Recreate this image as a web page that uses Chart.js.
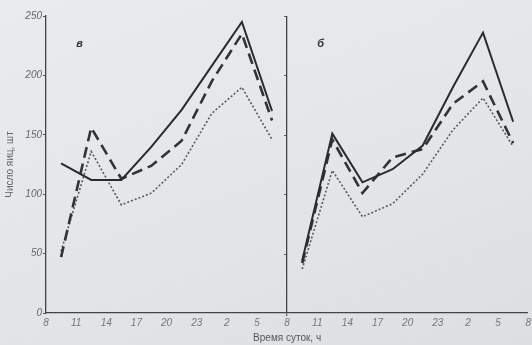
<!DOCTYPE html>
<html lang="ru">
<head>
    <meta charset="UTF-8">
    <title>Число яиц по времени суток</title>
    <script src="https://cdn.jsdelivr.net/npm/chart.js"></script>
    <style>
        html, body {
            margin: 0;
            padding: 0;
            width: 532px;
            height: 345px;
            overflow: hidden;
            background: linear-gradient(160deg, #e9ebed 0%, #e3e6e9 55%, #dcdfe2 100%);
        }
        #wrap {
            position: relative;
            width: 532px;
            height: 345px;
        }
    </style>
</head>
<body>
    <div id="wrap"><canvas id="grafik" width="532" height="345"></canvas></div>

    <script>
        // время суток (середина трёхчасового интервала)
        const hours = [9.5, 12.5, 15.5, 18.5, 21.5, 0.5, 3.5, 6.5];
        const xTicks = [8, 11, 14, 17, 20, 23, 2, 5, 8];
        const yTicks = [0, 50, 100, 150, 200, 250];

        // панель "в"
        const aSolid  = [126, 112, 112, 140, 171, 208, 245, 170];
        const aDashed = [47, 156, 113, 124, 145, 195, 235, 162];
        const aDotted = [52, 136, 91, 101, 125, 168, 190, 146];

        // панель "б"
        const bSolid  = [44, 151, 110, 121, 141, 190, 236, 161];
        const bDashed = [42, 146, 101, 131, 138, 176, 195, 143];
        const bDotted = [37, 120, 81, 92, 117, 154, 181, 140];

        const panelLabels = ['в', 'б'];

        // часы от 8:00, вторая панель сдвинута на сутки
        function toPoints(vals, shift) {
            return hours.map((h, i) => ({ x: (h - 8 + 24) % 24 + shift, y: vals[i] }));
        }

        const solid = { borderColor: '#2b2b2b', borderWidth: 2 };
        const dashed = { borderColor: '#333', borderWidth: 2.6, borderDash: [11, 6] };
        const dotted = { borderColor: '#5a5a5a', borderWidth: 1.6, borderDash: [2, 2] };

        const series = [
            [aSolid, 0, solid], [aDashed, 0, dashed], [aDotted, 0, dotted],
            [bSolid, 24, solid], [bDashed, 24, dashed], [bDotted, 24, dotted]
        ];

        const datasets = series.map(([vals, shift, style]) => Object.assign({
            data: toPoints(vals, shift),
            pointRadius: 0,
            tension: 0,
            fill: false
        }, style));

        const tickFont = { family: "'Liberation Sans Narrow', 'Liberation Sans', sans-serif", size: 10, style: 'italic' };

        // подписи панелей и засечки оси второй панели
        const extras = {
            id: 'extras',
            afterDraw(chart) {
                const c = chart.ctx;
                const xs = chart.scales.x, ys = chart.scales.y;
                c.save();
                c.fillStyle = '#333';
                c.font = "italic bold 11px 'Liberation Sans', sans-serif";
                c.fillText(panelLabels[0], xs.getPixelForValue(3), ys.getPixelForValue(224));
                c.fillText(panelLabels[1], xs.getPixelForValue(27), ys.getPixelForValue(224));
                const x0 = xs.getPixelForValue(24);
                c.strokeStyle = '#555';
                c.lineWidth = 1;
                yTicks.slice(1).forEach(v => {
                    const y = Math.round(ys.getPixelForValue(v)) + 0.5;
                    c.beginPath();
                    c.moveTo(x0 - 3, y);
                    c.lineTo(x0, y);
                    c.stroke();
                });
                c.restore();
            }
        };

        new Chart(document.getElementById('grafik').getContext('2d'), {
            type: 'line',
            data: { datasets },
            plugins: [extras],
            options: {
                responsive: false,
                animation: false,
                layout: { padding: { top: 16, right: 3, left: 4, bottom: 1 } },
                plugins: { legend: { display: false }, tooltip: { enabled: false } },
                scales: {
                    x: {
                        type: 'linear',
                        min: 0,
                        max: 48,
                        afterBuildTicks: s => { s.ticks = []; for (let v = 0; v <= 48; v += 3) s.ticks.push({ value: v }); },
                        ticks: {
                            autoSkip: false,
                            maxRotation: 0,
                            color: '#777',
                            font: tickFont,
                            padding: 1,
                            callback: v => xTicks[(v / 3) % 8]
                        },
                        grid: {
                            color: c => (c.tick && c.tick.value === 24) ? '#444' : 'transparent',
                            lineWidth: c => (c.tick && c.tick.value === 24) ? 1.3 : 0,
                            tickColor: '#666',
                            tickLength: 3,
                            drawOnChartArea: true
                        },
                        border: { color: '#444', width: 1.3 },
                        title: {
                            display: true,
                            text: 'Время суток, ч',
                            color: '#555',
                            font: { family: "'Liberation Sans Narrow', 'Liberation Sans', sans-serif", size: 10 },
                            padding: { top: 1, bottom: 0 }
                        },
                        afterFit: s => { s.height = 31; }
                    },
                    y: {
                        min: 0,
                        max: 250,
                        afterBuildTicks: s => { s.ticks = yTicks.map(v => ({ value: v })); },
                        ticks: { color: '#666', font: tickFont, padding: 1 },
                        grid: { display: true, drawOnChartArea: false, tickLength: 3, tickColor: '#555' },
                        border: { color: '#444', width: 1.3 },
                        title: {
                            display: true,
                            text: 'Число яиц, шт',
                            color: '#666',
                            font: { family: "'Liberation Sans Narrow', 'Liberation Sans', sans-serif", size: 10 },
                            padding: { top: 0, bottom: 2 }
                        },
                        afterFit: s => { s.width = 42; }
                    }
                }
            }
        });
    </script>
</body>
</html>
